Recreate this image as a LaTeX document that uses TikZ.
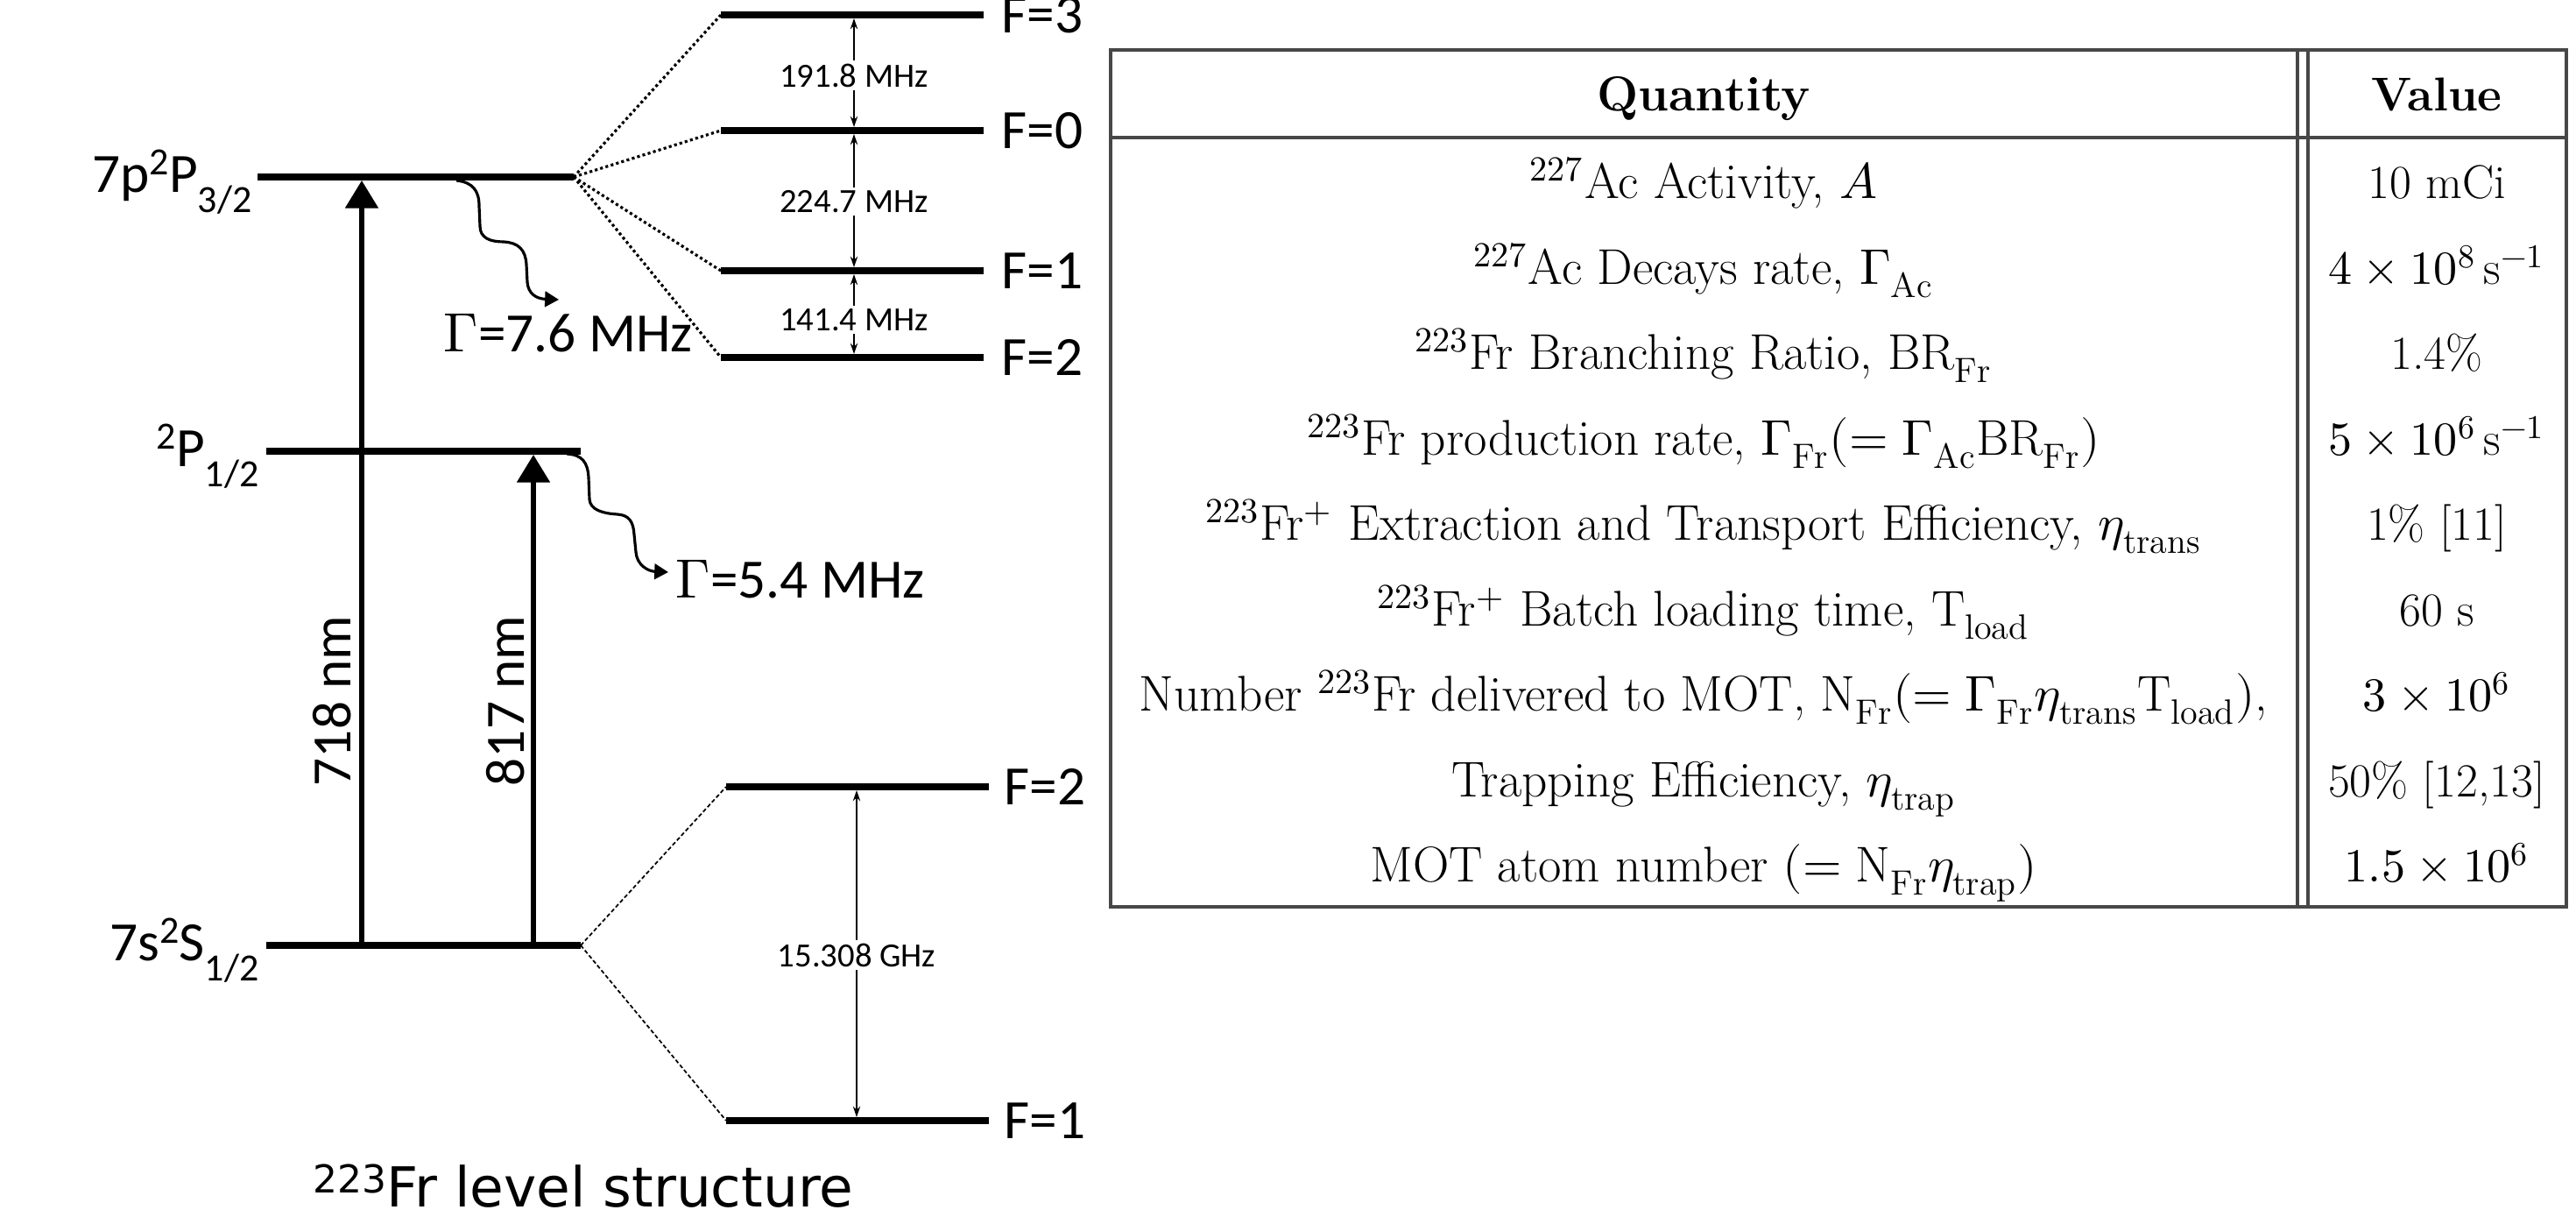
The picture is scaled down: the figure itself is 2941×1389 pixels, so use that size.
\documentclass[tikz,border=0pt]{standalone}
\usepackage{fontspec}
\usepackage{unicode-math}
\setmathfont{Latin Modern Math}
\newfontfamily\carl{Carlito}
\newfontfamily\dejav{DejaVu Sans}
\usetikzlibrary{arrows.meta}
\newcommand{\supr}[1]{\raisebox{0.33em}{\fontsize{12.5}{12}\selectfont #1}}
\newcommand{\subr}[1]{\raisebox{-0.36em}{\fontsize{12.5}{12}\selectfont #1}}
\tikzset{
  lvl/.style={line width=2pt},
  pumpar/.style={line width=1.6pt, -{Triangle[length=9pt,width=10.5pt]}},
  decayar/.style={line width=0.9pt, -{Triangle[length=4.5pt,width=5pt]}},
  hfdot/.style={line width=0.9pt, dash pattern=on 0.9pt off 0.9pt},
  hfdash/.style={line width=0.5pt, dash pattern=on 1.3pt off 0.8pt},
  frqar/.style={line width=0.45pt, {Stealth[length=3.5pt,width=2.4pt]}-{Stealth[length=3.5pt,width=2.4pt]}},
  biglab/.style={font=\carl\fontsize{18}{22}\selectfont, inner sep=0pt},
  smalllab/.style={font=\carl\fontsize{11}{13}\selectfont, fill=white, inner sep=1pt},
  tabtxt/.style={font=\fontsize{15.4}{18}\selectfont, inner sep=0pt, anchor=base},
  tabq/.style={font=\fontsize{16.3}{19}\selectfont, inner sep=0pt, anchor=base},
  tabh/.style={font=\fontsize{15.9}{19}\selectfont, inner sep=0pt, anchor=base},
  tabrule/.style={draw=black!72, line width=0.9pt},
}
\begin{document}
\begin{tikzpicture}[x=0.01cm,y=-0.01cm]
\path[fill=white] (0,0) rectangle (2941,1389);
\useasboundingbox (0,0) rectangle (2941,1389);

% fine-structure levels
\coordinate (P32a) at (294,202);  \coordinate (P32b) at (655,202);
\coordinate (P12a) at (304,515);  \coordinate (P12b) at (663,515);
\coordinate (S12a) at (304,1079); \coordinate (S12b) at (663,1079);
\draw[lvl] (P32a) -- (P32b);
\draw[lvl] (P12a) -- (P12b);
\draw[lvl] (S12a) -- (S12b);

% hyperfine levels
\coordinate (F3a) at (823,17);  \coordinate (F3b) at (1123,17);
\coordinate (F0a) at (823,149); \coordinate (F0b) at (1123,149);
\coordinate (F1a) at (823,309); \coordinate (F1b) at (1123,309);
\coordinate (F2a) at (823,408); \coordinate (F2b) at (1123,408);
\coordinate (G2a) at (829,898);  \coordinate (G2b) at (1129,898);
\coordinate (G1a) at (829,1279); \coordinate (G1b) at (1129,1279);
\foreach \a/\b in {F3a/F3b,F0a/F0b,F1a/F1b,F2a/F2b,G2a/G2b,G1a/G1b}
  \draw[lvl] (\a) -- (\b);

% splitting lines
\foreach \t in {F3a,F0a,F1a,F2a} \draw[hfdot] (P32b) -- (\t);
\foreach \t in {G2a,G1a} \draw[hfdash] (S12b) -- (\t);

% level labels
\node[biglab, anchor=base east] (lP32) at (288,220) {7p\supr{2}P\subr{3/2}};
\node[biglab, anchor=base east] (lP12) at (296,533) {\supr{2}P\subr{1/2}};
\node[biglab, anchor=base east] (lS12) at (296,1097) {7s\supr{2}S\subr{1/2}};

\node[biglab, anchor=west] (lF3) at (1143,17) {F=3};
\node[biglab, anchor=west] (lF0) at (1143,149) {F=0};
\node[biglab, anchor=west] (lF1) at (1143,309) {F=1};
\node[biglab, anchor=west] (lF2) at (1143,408) {F=2};
\node[biglab, anchor=west] (lG2) at (1146,898) {F=2};
\node[biglab, anchor=west] (lG1) at (1146,1279) {F=1};

% pump arrows
\coordinate (a7s) at (413,1079); \coordinate (a7e) at (413,206);
\coordinate (a8s) at (609,1079); \coordinate (a8e) at (609,519);
\draw[pumpar] (a7s) -- (a7e);
\draw[pumpar] (a8s) -- (a8e);
\node[biglab, rotate=90] (w718) at (379,800) {718 nm};
\node[biglab, rotate=90] (w817) at (577,800) {817 nm};

% decays
\coordinate (d1s) at (521,206); \coordinate (d1e) at (638,342);
\draw[decayar] (d1s) .. controls (540,208) and (547,218) .. (547,235)
  -- (548,258) .. controls (548,272) and (560,276) .. (575,276)
  .. controls (592,277) and (600,285) .. (601,302)
  -- (602,322) .. controls (603,335) and (612,341) .. (d1e);
\node[biglab, anchor=base west] (g1) at (506,402) {$\Gamma$=7.6 MHz};

\coordinate (d2s) at (647,518); \coordinate (d2e) at (763,653);
\draw[decayar] (d2s) .. controls (665,519) and (671,528) .. (672,545)
  -- (673,570) .. controls (674,582) and (688,586) .. (705,587)
  .. controls (718,588) and (723,595) .. (724,610)
  -- (726,630) .. controls (727,645) and (740,652) .. (d2e);
\node[biglab, anchor=base west] (g2) at (771,683) {$\Gamma$=5.4 MHz};

% hyperfine intervals
\coordinate (h1) at (975,21);  \coordinate (h2) at (975,145);
\coordinate (h3) at (975,153); \coordinate (h4) at (975,305);
\coordinate (h5) at (975,313); \coordinate (h6) at (975,404);
\coordinate (h7) at (978,902); \coordinate (h8) at (978,1275);
\draw[frqar] (h1) -- (h2);
\draw[frqar] (h3) -- (h4);
\draw[frqar] (h5) -- (h6);
\draw[frqar] (h7) -- (h8);
\node[smalllab] (f1) at (975,86) {191.8 MHz};
\node[smalllab] (f2) at (975,230) {224.7 MHz};
\node[smalllab] (f3) at (975,365) {141.4 MHz};
\node[smalllab] (f4) at (978,1090) {15.308 GHz};

% caption
\node[font=\dejav\fontsize{17.9}{20}\selectfont, anchor=base west, inner sep=0pt] (cap) at (357,1378)
  {\raisebox{0.26em}{\fontsize{12.5}{12}\selectfont 223}Fr level structure};

% table
\coordinate (tl) at (1268,57); \coordinate (br) at (2930,1035);
\draw[tabrule] (tl) rectangle (br);
\coordinate (hl) at (1268,157); \coordinate (hr) at (2930,157);
\draw[tabrule] (hl) -- (hr);
\coordinate (c1t) at (2623,57); \coordinate (c1b) at (2623,1035);
\coordinate (c2t) at (2635,57); \coordinate (c2b) at (2635,1035);
\draw[tabrule] (c1t) -- (c1b);
\draw[tabrule] (c2t) -- (c2b);

\node[tabh] (hq) at (1945,127) {\textbf{Quantity}};
\node[tabtxt] (hv) at (2782,127) {\textbf{Value}};

\node[tabq] (q1) at (1945,227) {$^{227}$Ac Activity, $A$};
\node[tabtxt] (v1) at (2782,227) {10 mCi};
\node[tabq] (q2) at (1945,325) {$^{227}$Ac Decays rate, $\Gamma_{\mathrm{Ac}}$};
\node[tabtxt] (v2) at (2782,325) {$4\times10^{8}\,\mathrm{s}^{-1}$};
\node[tabq] (q3) at (1945,422) {$^{223}$Fr Branching Ratio, BR$_{\mathrm{Fr}}$};
\node[tabtxt] (v3) at (2782,422) {1.4\%};
\node[tabq] (q4) at (1945,520) {$^{223}$Fr production rate, $\Gamma_{\mathrm{Fr}}(=\Gamma_{\mathrm{Ac}}\mathrm{BR}_{\mathrm{Fr}})$};
\node[tabtxt] (v4) at (2782,520) {$5\times10^{6}\,\mathrm{s}^{-1}$};
\node[tabq] (q5) at (1945,617) {$^{223}$Fr$^{+}$ Extraction and Transport Efficiency, $\eta_{\mathrm{trans}}$};
\node[tabtxt] (v5) at (2782,617) {1\% [11]};
\node[tabq] (q6) at (1945,715) {$^{223}$Fr$^{+}$ Batch loading time, T$_{\mathrm{load}}$};
\node[tabtxt] (v6) at (2782,715) {60 s};
\node[tabq] (q7) at (1945,812) {Number $^{223}$Fr delivered to MOT, $\mathrm{N}_{\mathrm{Fr}}(=\Gamma_{\mathrm{Fr}}\eta_{\mathrm{trans}}\mathrm{T}_{\mathrm{load}})$,};
\node[tabtxt] (v7) at (2782,812) {$3\times10^{6}$};
\node[tabq] (q8) at (1945,910) {Trapping Efficiency, $\eta_{\mathrm{trap}}$};
\node[tabtxt] (v8) at (2782,910) {50\% [12,13]};
\node[tabq] (q9) at (1945,1007) {MOT atom number $(=\mathrm{N}_{\mathrm{Fr}}\eta_{\mathrm{trap}})$};
\node[tabtxt] (v9) at (2782,1007) {$1.5\times10^{6}$};
\end{tikzpicture}
\end{document}
